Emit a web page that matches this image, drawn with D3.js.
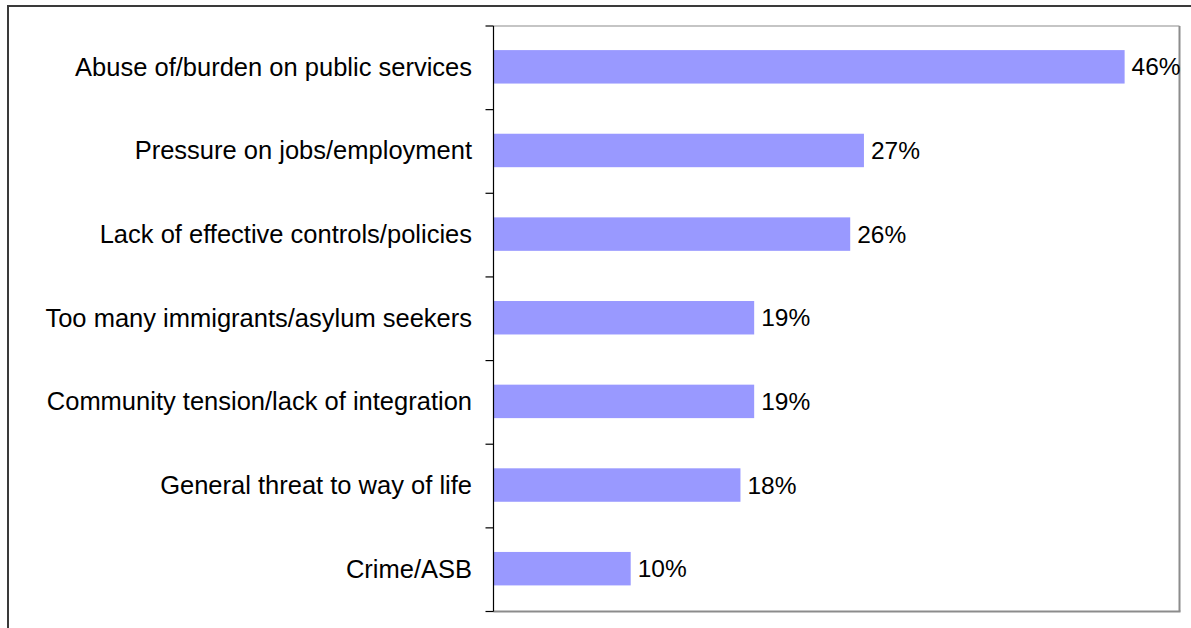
<!DOCTYPE html>
<html>
<head>
<meta charset="utf-8">
<script src="https://cdn.jsdelivr.net/npm/d3@7"></script>
<style>
  html, body { margin: 0; padding: 0; background: #fff; }
  svg { display: block; font-family: "Liberation Sans", Arial, sans-serif; }
</style>
</head>
<body>
<svg id="chart" width="1191" height="628"></svg>
<script>
// Reasons given for concern about immigration (share of respondents)
const categories = [
  "Abuse of/burden on public services",
  "Pressure on jobs/employment",
  "Lack of effective controls/policies",
  "Too many immigrants/asylum seekers",
  "Community tension/lack of integration",
  "General threat to way of life",
  "Crime/ASB"
];
const values = [46, 27, 26, 19, 19, 18, 10];
const valueLabels = ["46%", "27%", "26%", "19%", "19%", "18%", "10%"];
const xDomain = [0, 50];

const svg = d3.select("#chart");

// Outer chart frame (runs off the right and bottom edges)
svg.append("rect")
  .attr("x", 8).attr("y", 6)
  .attr("width", 1300).attr("height", 800)
  .attr("fill", "none")
  .attr("stroke", "#3a3a3a")
  .attr("stroke-width", 2);

const plot = { left: 493.5, top: 26, right: 1179.5, bottom: 611.5 };

const x = d3.scaleLinear().domain(xDomain).range([plot.left, plot.right]);
const y = d3.scaleBand()
  .domain(categories)
  .range([plot.top, plot.bottom])
  .paddingInner(0.6)
  .paddingOuter(0.3);

// Plot area border: thin top, heavier right/bottom edge
svg.append("line")
  .attr("x1", plot.left).attr("x2", plot.right)
  .attr("y1", plot.top).attr("y2", plot.top)
  .attr("stroke", "#8c8c8c").attr("stroke-width", 1.2);
svg.append("line")
  .attr("x1", plot.right).attr("x2", plot.right)
  .attr("y1", plot.top).attr("y2", plot.bottom)
  .attr("stroke", "#8c8c8c").attr("stroke-width", 2);
svg.append("line")
  .attr("x1", plot.left).attr("x2", plot.right + 1)
  .attr("y1", plot.bottom).attr("y2", plot.bottom)
  .attr("stroke", "#8c8c8c").attr("stroke-width", 2);

// Bars
svg.append("g").selectAll("rect")
  .data(categories)
  .join("rect")
  .attr("x", x(0) + 0.5)
  .attr("y", d => y(d) - 1)
  .attr("width", (d, i) => x(values[i]) - x(0) - 0.5)
  .attr("height", y.bandwidth())
  .attr("fill", "#9999ff");

// Value labels
svg.append("g").selectAll("text")
  .data(categories)
  .join("text")
  .attr("x", (d, i) => x(values[i]) + 7)
  .attr("y", d => y(d) - 1 + y.bandwidth() / 2)
  .attr("dy", "0.35em")
  .attr("font-size", 24.5)
  .attr("fill", "#000")
  .text((d, i) => valueLabels[i]);

// Category axis: line with ticks at band boundaries
const step = y.step();
const boundaries = d3.range(categories.length + 1).map(i => plot.top + i * step);
const axis = svg.append("g");
axis.append("line")
  .attr("x1", plot.left).attr("x2", plot.left)
  .attr("y1", plot.top).attr("y2", plot.bottom)
  .attr("stroke", "#000").attr("stroke-width", 1.2);
axis.selectAll("line.tick")
  .data(boundaries)
  .join("line")
  .attr("class", "tick")
  .attr("x1", plot.left - 8).attr("x2", plot.left)
  .attr("y1", d => d).attr("y2", d => d)
  .attr("stroke", "#000").attr("stroke-width", 1.2);

axis.selectAll("text")
  .data(categories)
  .join("text")
  .attr("x", 472)
  .attr("y", d => y(d) - 1 + y.bandwidth() / 2)
  .attr("dy", "0.35em")
  .attr("text-anchor", "end")
  .attr("font-size", 25.5)
  .attr("fill", "#000")
  .text(d => d);
</script>
</body>
</html>
